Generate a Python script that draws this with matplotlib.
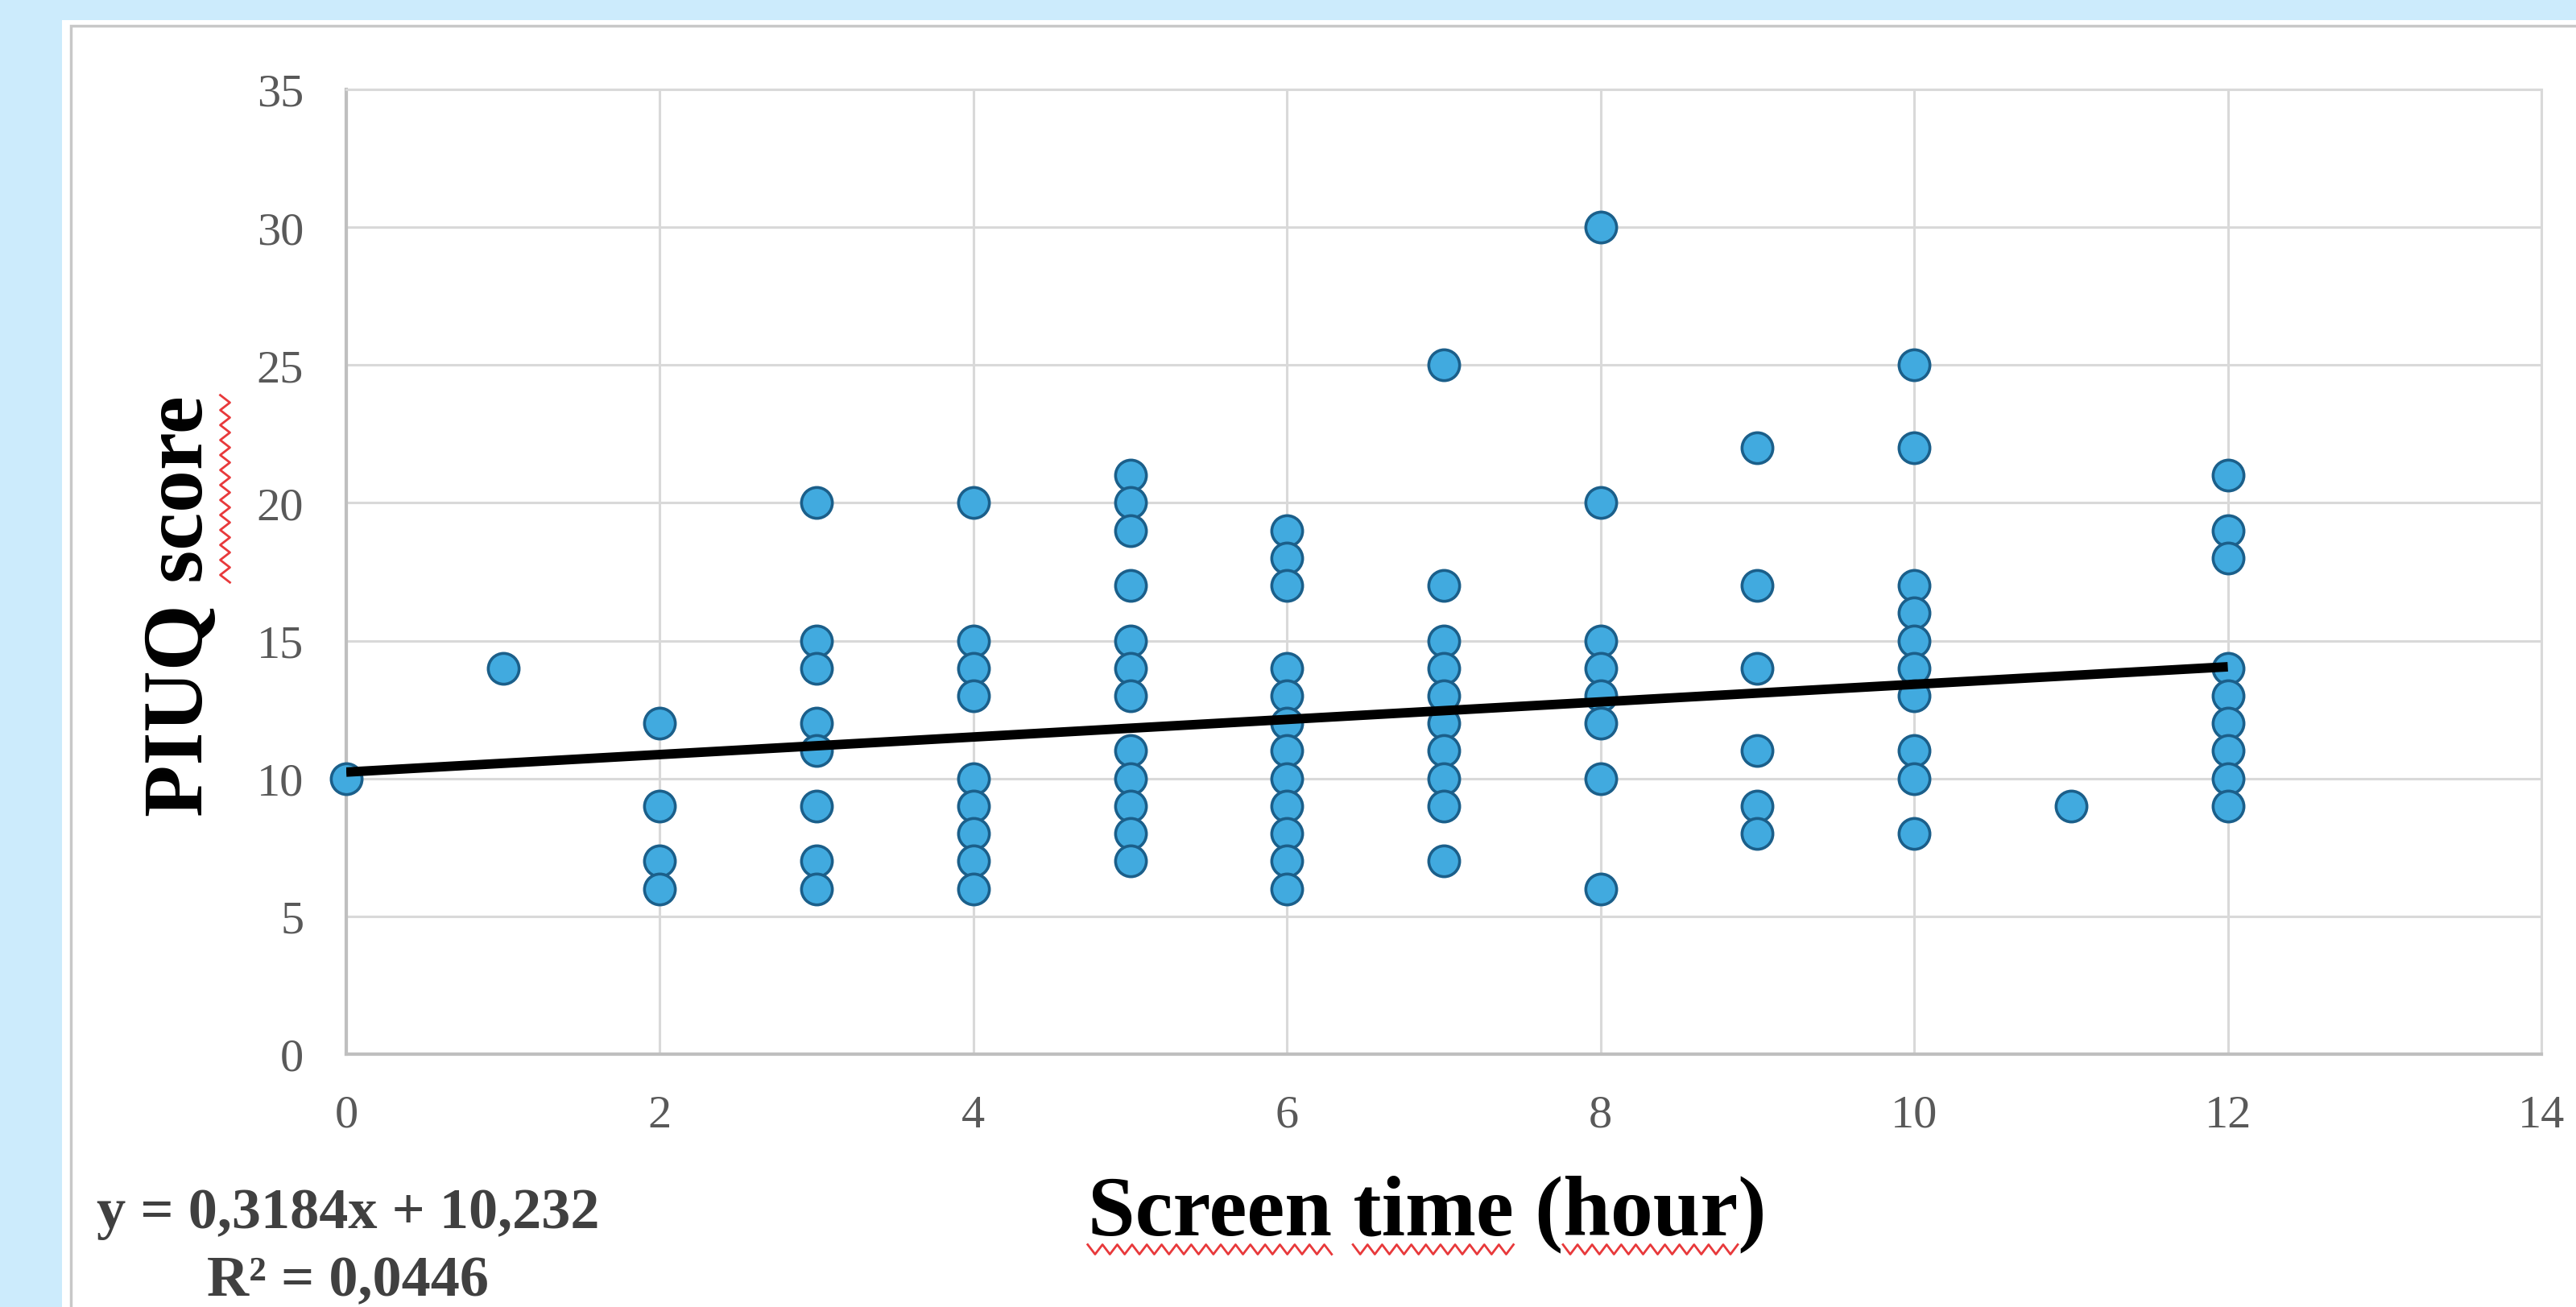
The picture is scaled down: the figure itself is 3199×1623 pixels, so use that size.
import matplotlib
matplotlib.use("Agg")
import matplotlib.pyplot as plt
import numpy as np
from matplotlib.patches import Rectangle
from matplotlib.lines import Line2D

# data
screen_time = [0, 1,
               2, 2, 2, 2,
               3, 3, 3, 3, 3, 3, 3, 3,
               4, 4, 4, 4, 4, 4, 4, 4, 4,
               5, 5, 5, 5, 5, 5, 5, 5, 5, 5, 5, 5,
               6, 6, 6, 6, 6, 6, 6, 6, 6, 6, 6, 6,
               7, 7, 7, 7, 7, 7, 7, 7, 7, 7,
               8, 8, 8, 8, 8, 8, 8, 8,
               9, 9, 9, 9, 9, 9,
               10, 10, 10, 10, 10, 10, 10, 10, 10, 10,
               11,
               12, 12, 12, 12, 12, 12, 12, 12, 12]
piuq_score = [10, 14,
              12, 9, 7, 6,
              20, 15, 14, 12, 11, 9, 7, 6,
              20, 15, 14, 13, 10, 9, 8, 7, 6,
              21, 20, 19, 17, 15, 14, 13, 11, 10, 9, 8, 7,
              19, 18, 17, 14, 13, 12, 11, 10, 9, 8, 7, 6,
              25, 17, 15, 14, 13, 12, 11, 10, 9, 7,
              30, 20, 15, 14, 13, 12, 10, 6,
              22, 17, 14, 11, 9, 8,
              25, 22, 17, 16, 15, 14, 13, 11, 10, 8,
              9,
              21, 19, 18, 14, 13, 12, 11, 10, 9]
slope = 0.3184
intercept = 10.232
r_squared = 0.0446
x_ticks = [0, 2, 4, 6, 8, 10, 12, 14]
y_ticks = [0, 5, 10, 15, 20, 25, 30, 35]

W, H = 3199, 1624
serif = "Liberation Serif"

fig = plt.figure(figsize=(W / 100, H / 100), dpi=100, facecolor="#CCEBFC")

# white chart panel with grey border
fig.patches.append(Rectangle((77 / W, -0.1), 1, 1.1 - 26 / H, transform=fig.transFigure,
                             facecolor="white", edgecolor="none", zorder=-3))
fig.patches.append(Rectangle((88 / W, -0.1), 1, 1.1 - 33 / H, transform=fig.transFigure,
                             facecolor="none", edgecolor="#C8C8C8", lw=2.5, zorder=-2))

ax = fig.add_axes([430 / W, 1 - 1310 / H, (3156 - 430) / W, (1310 - 112) / H])
ax.set_facecolor("white")
ax.set_xlim(0, 14)
ax.set_ylim(0, 35)
ax.set_xticks(x_ticks)
ax.set_yticks(y_ticks)
ax.grid(True, color="#D9D9D9", lw=2.2, zorder=0)
ax.set_axisbelow(True)
for s in ["top", "right"]:
    ax.spines[s].set_color("#D9D9D9")
    ax.spines[s].set_linewidth(2.2)
for s in ["left", "bottom"]:
    ax.spines[s].set_color("#BFBFBF")
    ax.spines[s].set_linewidth(3)
ax.tick_params(length=0, labelsize=42, labelcolor="#595959")
ax.tick_params(axis="y", pad=38)
ax.tick_params(axis="x", pad=36)
for lab in ax.get_xticklabels() + ax.get_yticklabels():
    lab.set_fontfamily(serif)

ax.scatter(screen_time, piuq_score, s=760, facecolor="#41AADF", edgecolor="#1B5F8A",
           linewidth=2.6, zorder=3, clip_on=False)

xf = np.array([0, 12])
ax.plot(xf, slope * xf + intercept, color="black", lw=8.5, zorder=4, solid_capstyle="butt")

# axis titles
xlab = fig.text(1772 / W, 1 - 1508 / H, "Screen time (hour)", ha="center", va="center",
                fontsize=76, fontweight="bold", family=serif, color="black")
ylab = fig.text(225 / W, 1 - 753 / H, "PIUQ score", ha="center", va="center", rotation=90,
                fontsize=76, fontweight="bold", family=serif, color="black")

eq = "y = " + f"{slope}".replace(".", ",") + "x + " + f"{intercept}".replace(".", ",")
r2 = "R² = " + f"{r_squared}".replace(".", ",")
fig.text(432 / W, 1 - 1508 / H, eq, ha="center", va="center", fontsize=52,
         fontweight="bold", family=serif, color="#404040")
fig.text(432 / W, 1 - 1592 / H, r2, ha="center", va="center", fontsize=52,
         fontweight="bold", family=serif, color="#404040")

# red spell-check squiggles under some words
fig.canvas.draw()
rend = fig.canvas.get_renderer()


def text_width(s):
    t = fig.text(0, 0, s, fontsize=76, fontweight="bold", family=serif)
    w = t.get_window_extent(rend).width
    t.remove()
    return w


def zigzag(x0, x1, y, horizontal=True, step=9, amp=6):
    n = max(int((x1 - x0) / step), 2)
    p = np.linspace(x0, x1, n + 1)
    q = y + amp * np.where(np.arange(n + 1) % 2 == 0, 1, -1)
    if horizontal:
        xs, ys = p, q
    else:
        xs, ys = q, p
    fig.lines.append(Line2D(np.array(xs) / W, np.array(ys) / H, transform=fig.transFigure,
                            color="#E8393B", lw=2.0))


bb = xlab.get_window_extent(rend)
full = "Screen time (hour)"
x0 = bb.x0
ybase = bb.y0 + 4
for word in ["Screen", "time", "hour"]:
    i = full.index(word)
    a = x0 + text_width(full[:i]) if i > 0 else x0
    b = x0 + text_width(full[:i + len(word)])
    zigzag(a, b, ybase)

bb = ylab.get_window_extent(rend)
full = "PIUQ score"
i = full.index("score")
a = bb.y0 + text_width(full[:i])
b = bb.y0 + text_width(full)
zigzag(a, b, bb.x1 + 6, horizontal=False)

fig.savefig("out.png", dpi=100, facecolor=fig.get_facecolor())
